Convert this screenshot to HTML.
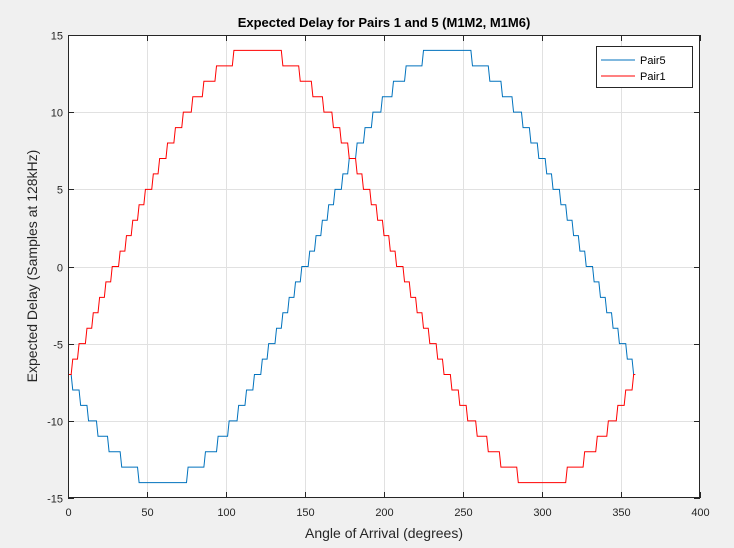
<!DOCTYPE html>
<html><head><meta charset="utf-8"><style>
body{margin:0;background:#f0f0f0;}
svg{display:block;font-family:"Liberation Sans",Arial,sans-serif;}
</style></head><body>
<svg id="s" width="734" height="548" viewBox="0 0 734 548" xmlns="http://www.w3.org/2000/svg">
<rect x="0" y="0" width="734" height="548" fill="#f0f0f0"/>
<rect x="68" y="35" width="632" height="463" fill="#fff"/>
<g id="grid" stroke="#e1e1e1" stroke-width="1"></g>
<g id="ticks" stroke="#262626" stroke-width="1"></g>
<g id="lab" font-size="11" fill="#262626"></g>
<path id="p5" fill="none" stroke="#0072BD" stroke-width="1"/>
<path id="p1" fill="none" stroke="#FF0000" stroke-width="1"/>
<rect x="68.5" y="35.5" width="631" height="462" fill="none" stroke="#262626" stroke-width="1"/>
<text x="384" y="27" font-size="13" font-weight="bold" text-anchor="middle" fill="#000">Expected Delay for Pairs 1 and 5 (M1M2, M1M6)</text>
<text x="384" y="538" font-size="14" text-anchor="middle" fill="#262626">Angle of Arrival (degrees)</text>
<text transform="translate(37,266) rotate(-90)" font-size="14" text-anchor="middle" fill="#262626">Expected Delay (Samples at 128kHz)</text>
<rect x="596.5" y="46.5" width="96" height="41" fill="#fff" stroke="#262626" stroke-width="1"/>
<line x1="601" y1="60" x2="635" y2="60" stroke="#0072BD"/>
<text x="640" y="64" font-size="11" fill="#000">Pair5</text>
<line x1="601" y1="76" x2="635" y2="76" stroke="#FF0000"/>
<text x="640" y="80" font-size="11" fill="#000">Pair1</text>
</svg>
<script>
var X=function(v){return 68+v*632/400;},Y=function(v){return 35+(15-v)*463/30;};
var g=document.getElementById('grid'),t=document.getElementById('ticks'),l=document.getElementById('lab'),ns='http://www.w3.org/2000/svg';
function el(p,n,a,txt){var e=document.createElementNS(ns,n);for(var k in a)e.setAttribute(k,a[k]);if(txt!=null)e.textContent=txt;p.appendChild(e);}
for(var v=0;v<=400;v+=50){var x=Math.round(X(v))+0.5;
 if(v>0&&v<400)el(g,'line',{x1:x,y1:35,x2:x,y2:498});
 el(t,'line',{x1:x,y1:498,x2:x,y2:492});el(t,'line',{x1:x,y1:35,x2:x,y2:41});
 el(l,'text',{x:x,y:516,'text-anchor':'middle'},v);}
for(var v=-15;v<=15;v+=5){var y=Math.round(Y(v))+0.5;
 if(v>-15&&v<15)el(g,'line',{x1:68,y1:y,x2:700,y2:y});
 el(t,'line',{x1:68,y1:y,x2:74,y2:y});el(t,'line',{x1:700,y1:y,x2:694,y2:y});
 el(l,'text',{x:63,y:y+4,'text-anchor':'end'},v);}
var d1='',d5='';
for(var a=0;a<=359;a++){var r=a*Math.PI/180;
 var v1=Math.round(14*Math.sin(r-Math.PI/6)),v5=Math.round(14*Math.sin(r-5*Math.PI/6));
 d1+=(a?'L':'M')+X(a).toFixed(2)+' '+Y(v1).toFixed(2);
 d5+=(a?'L':'M')+X(a).toFixed(2)+' '+Y(v5).toFixed(2);}
document.getElementById('p1').setAttribute('d',d1);
document.getElementById('p5').setAttribute('d',d5);
</script>
</body></html>
